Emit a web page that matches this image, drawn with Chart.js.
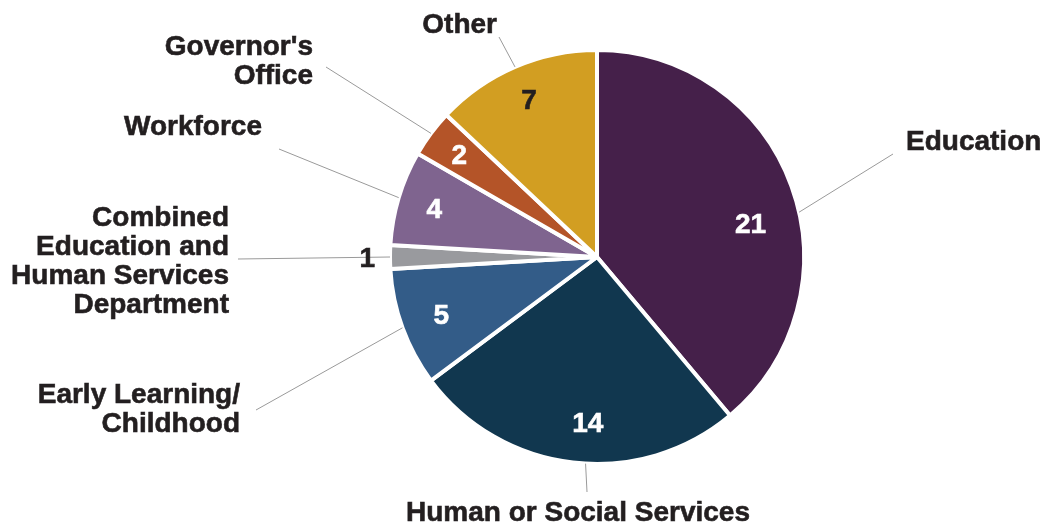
<!DOCTYPE html>
<html>
<head>
<meta charset="utf-8">
<script src="https://cdn.jsdelivr.net/npm/chart.js@4.4.1/dist/chart.umd.min.js"></script>
<style>
  html, body { margin: 0; padding: 0; background: #ffffff; }
  #wrap { position: relative; width: 1044px; height: 524px; }
</style>
</head>
<body>
<div id="wrap"><canvas id="grafico"></canvas></div>
<script>
// Datos del gráfico
const categorias = ['Education', 'Human or Social Services', 'Early Learning/ Childhood',
  'Combined Education and Human Services Department', 'Workforce', "Governor's Office", 'Other'];
const valores = [21, 14, 5, 1, 4, 2, 7];
const colores = ['#45204A', '#11374F', '#335C88', '#999A9E', '#7F648F', '#B45428', '#D29E22'];
const coloresValor = ['#ffffff', '#ffffff', '#ffffff', '#231F20', '#ffffff', '#ffffff', '#231F20'];

// Etiquetas exteriores (texto en líneas, posición, ancla de la línea guía, giro en grados)
const etiquetas = [
  { lineas: ['Education'], x: 906, y: 140, align: 'left', guia: [893, 154], giro: 7.5, radio: 0.76 },
  { lineas: ['Human or Social Services'], x: 578, y: 511, align: 'center', guia: [587, 492], giro: -3.5, radio: 0.8 },
  { lineas: ['Early Learning/', 'Childhood'], x: 240, y: 393, align: 'right', guia: [256, 410], giro: 0, radio: 0.8 },
  { lineas: ['Combined', 'Education and', 'Human Services', 'Department'], x: 229, y: 216, align: 'right', guia: [238, 259], giro: 0, radio: 1.11 },
  { lineas: ['Workforce'], x: 262, y: 125, align: 'right', guia: [279, 149], giro: 0, radio: 0.82 },
  { lineas: ["Governor's", 'Office'], x: 313, y: 45, align: 'right', guia: [326, 67], giro: 0, radio: 0.83 },
  { lineas: ['Other'], x: 497, y: 23, align: 'right', guia: [499, 37], giro: 0, radio: 0.83 }
];

const FUENTE = 'bold 28px "Liberation Sans", Arial, sans-serif';
const INTERLINEA = 29;

function textoGrueso(ctx, texto, x, y) {
  ctx.fillText(texto, x, y);
  ctx.strokeText(texto, x, y);
}

const pluginEtiquetas = {
  id: 'etiquetas',
  afterDatasetsDraw(chart) {
    const ctx = chart.ctx;
    const arcos = chart.getDatasetMeta(0).data;
    ctx.save();
    ctx.font = FUENTE;
    arcos.forEach((arco, i) => {
      const { x, y, startAngle, endAngle, outerRadius } = arco.getProps(['x', 'y', 'startAngle', 'endAngle', 'outerRadius'], true);
      const et = etiquetas[i];
      const medio = (startAngle + endAngle) / 2 + et.giro * Math.PI / 180;

      // línea guía
      ctx.strokeStyle = '#9a9a9a';
      ctx.lineWidth = 1;
      ctx.beginPath();
      ctx.moveTo(et.guia[0], et.guia[1]);
      ctx.lineTo(x + Math.cos(medio) * outerRadius, y + Math.sin(medio) * outerRadius);
      ctx.stroke();

      // valor
      const vx = x + Math.cos(medio) * outerRadius * et.radio;
      const vy = y + Math.sin(medio) * outerRadius * et.radio;
      ctx.fillStyle = coloresValor[i];
      ctx.strokeStyle = coloresValor[i];
      ctx.lineWidth = 0.6;
      ctx.textAlign = 'center';
      ctx.textBaseline = 'alphabetic';
      textoGrueso(ctx, String(valores[i]), vx, vy + 10);

      // texto de categoría
      ctx.fillStyle = '#231F20';
      ctx.strokeStyle = '#231F20';
      ctx.textAlign = et.align;
      et.lineas.forEach((linea, j) => {
        textoGrueso(ctx, linea, et.x, et.y + j * INTERLINEA + 10);
      });
    });
    ctx.restore();
  }
};

new Chart(document.getElementById('grafico'), {
  type: 'pie',
  data: {
    labels: categorias,
    datasets: [{
      data: valores,
      backgroundColor: colores,
      borderColor: '#ffffff',
      borderWidth: 4
    }]
  },
  options: {
    responsive: true,
    maintainAspectRatio: false,
    animation: false,
    layout: { padding: { top: 48, bottom: 58, left: 388, right: 238 } },
    plugins: {
      legend: { display: false },
      tooltip: { enabled: false }
    }
  },
  plugins: [pluginEtiquetas]
});
</script>
</body>
</html>
